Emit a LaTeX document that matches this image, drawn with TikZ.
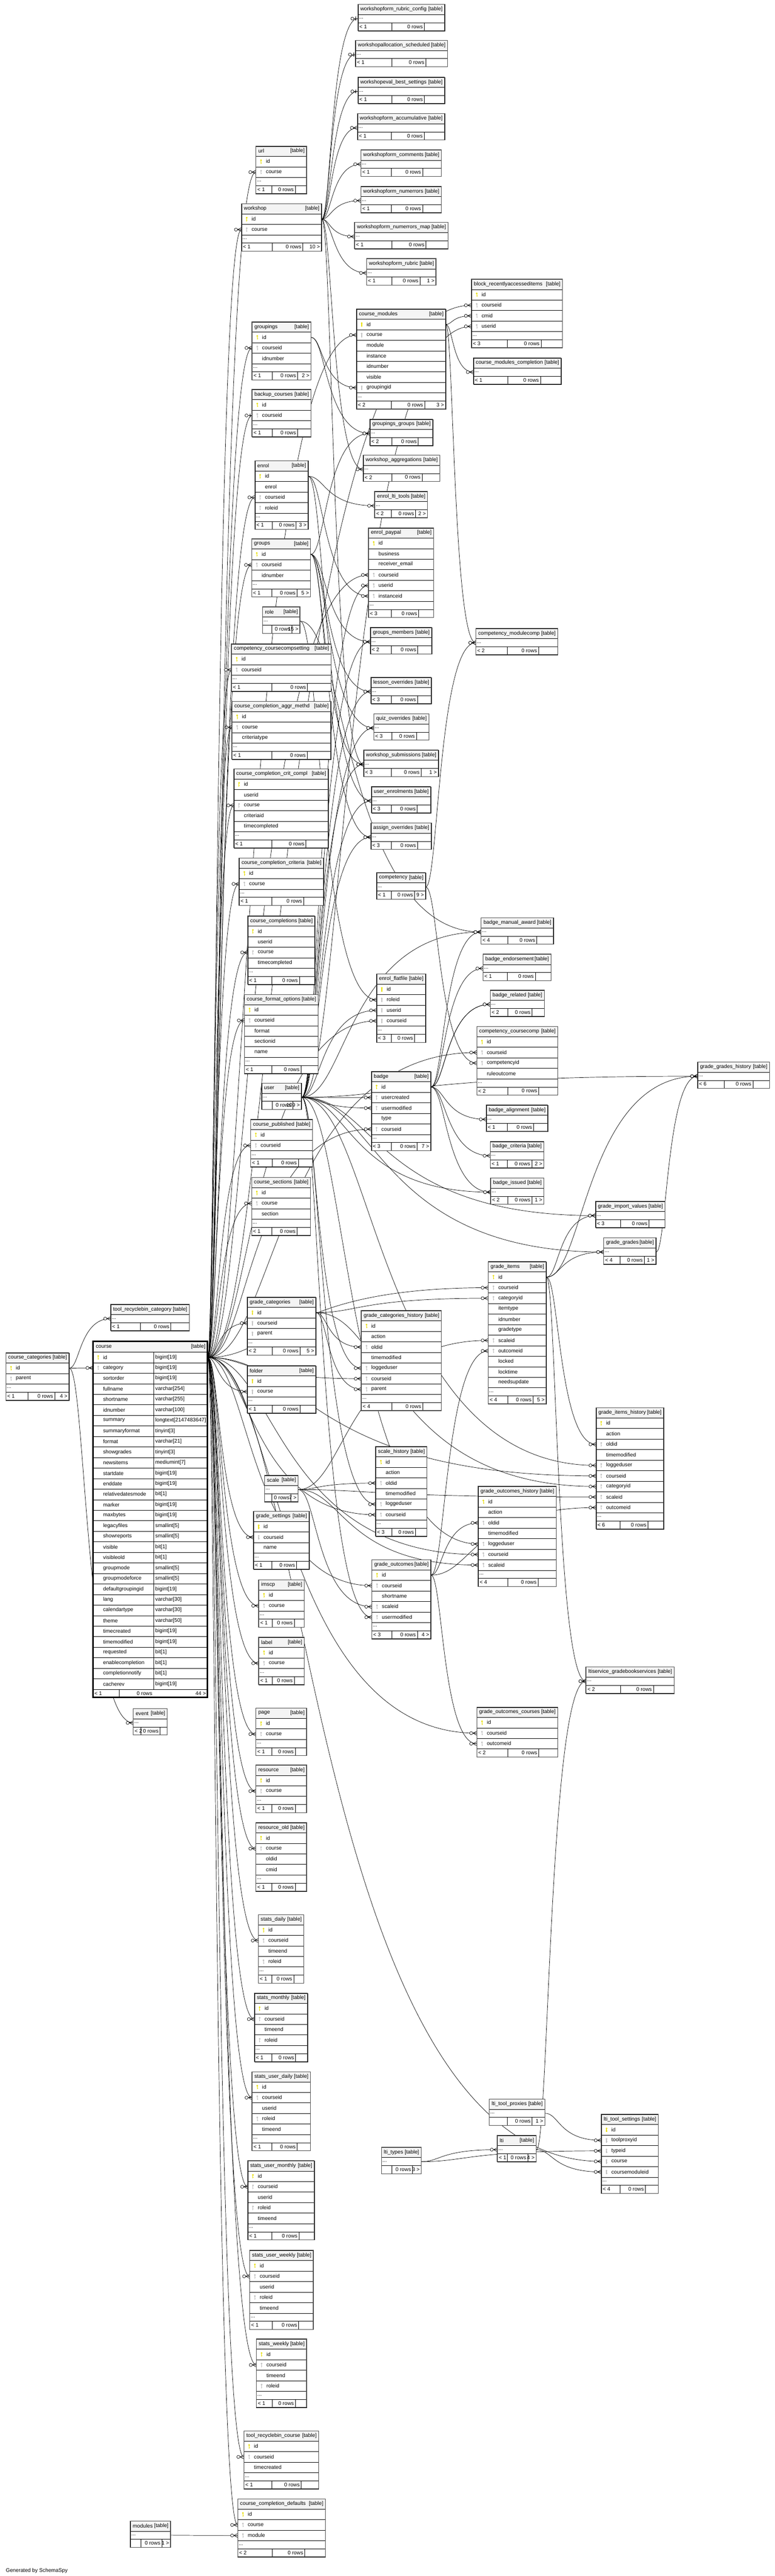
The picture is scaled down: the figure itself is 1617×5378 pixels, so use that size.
\documentclass[tikz,border=0pt]{standalone}
\usepackage{fontspec}
\setmainfont{Liberation Sans}
\usetikzlibrary{calc}
\pgfdeclarelayer{bg}
\pgfdeclarelayer{edges}
\pgfsetlayers{bg,edges,main}

\definecolor{headgrey}{RGB}{244,244,244}
\definecolor{pk}{RGB}{232,222,0}
\definecolor{fk}{RGB}{192,192,192}
\definecolor{nk}{RGB}{255,255,255}
\newcommand{\tblfont}{\fontsize{11}{13}\selectfont}
\newlength{\tblw}
\def\tbldotsflag{dots}

\tikzset{
  tblhead/.style={draw=black, line width=0.7pt, fill=headgrey, anchor=north west, minimum height=21pt, inner sep=0pt},
  tblrow/.style={draw=black, line width=0.7pt, fill=white, anchor=north west, minimum height=22pt, inner sep=0pt},
  tbldots/.style={tblrow, minimum height=17pt},
  tblfoot/.style={tblrow, minimum height=17pt},
  tbltext/.style={font=\tblfont, inner sep=0pt},
  tblgrid/.style={draw=black, line width=0.7pt},
  tblframe/.style={draw=black!70, line width=1.2pt},
  fkline/.style={line width=0.75pt},
  crow/.pic={\draw[fkline] (-8,0) -- (0,-4) (-8,0) -- (0,4) (-8,0) -- (0,0);
    \draw[fkline, fill=white] (-11.5,0) circle[radius=3.2];},
  bar/.pic={\draw[fkline] (-4,-4) -- (-4,4) (-8,0) -- (0,0);
    \draw[fkline, fill=white] (-11.5,0) circle[radius=3.2];},
}

% key glyph: colour, x, y
\newcommand{\keyat}[3]{%
  \fill[#1] (#2,#3-2.5) circle[radius=1.9];
  \fill[#1] (#2-0.6,#3-1) rectangle (#2+0.6,#3+5);
  \fill[#1] (#2,#3+2.5) rectangle (#2+1.6,#3+3.5);
}

% footer row: name, x, y, width, left text, right text
\newcommand{\footcells}[6]{%
  \settowidth{\tblw}{\tblfont #5}\pgfmathsetmacro\tbllz{max(14,\tblw+9)}%
  \settowidth{\tblw}{\tblfont #6}\pgfmathsetmacro\tblrz{max(14,\tblw+9)}%
  \pgfmathsetmacro\tblex{#4-\tbllz-39.5-\tblrz}%
  \pgfmathsetmacro\tblda{#2+\tbllz+\tblex/2}%
  \pgfmathsetmacro\tbldb{\tblda+39.5+\tblex/4}%
  \node[tblfoot, minimum width=#4pt] (#1-foot) at (#2,#3) {};
  \draw[tblgrid] (\tblda,#3) -- ++(0,17) (\tbldb,#3) -- ++(0,17);
  \node[tbltext, anchor=west] at (#2+3,#3+8.5) {#5};
  \node[tbltext, anchor=east] at (\tbldb-3,#3+8.5) {0 rows};
  \node[tbltext, anchor=east] at (#2+#4-3,#3+8.5) {#6};
}

% table with columns: [dots/nodots], name, x, y, width, rows, left, right
\newcommand{\dbtable}[8][dots]{%
  \node[tblhead, minimum width=#5pt] (#2) at (#3,#4) {};
  \node[tbltext, anchor=west] at (#3+5,#4+10.5) {\detokenize{#2}};
  \node[tbltext, anchor=east] at (#3+#5-4,#4+10.5) {[table]};
  \pgfmathsetmacro\tmpy{#4+21}\xdef\rowy{\tmpy}%
  \foreach \kind/\rname in {#6}{%
    \node[tblrow, minimum width=#5pt] (#2-\rname) at (#3,\rowy) {};
    \keyat{\kind}{#3+11}{\rowy+11}
    \node[tbltext, anchor=west] at (#3+21,\rowy+11) {\detokenize\expandafter{\rname}};
    \pgfmathsetmacro\tmpy{\rowy+22}\xdef\rowy{\tmpy}%
  }%
  \def\tblopt{#1}%
  \ifx\tblopt\tbldotsflag
    \node[tbldots, minimum width=#5pt] (#2-dots) at (#3,\rowy) {};
    \node[tbltext, anchor=west] at (#3+2,\rowy+9) {...};
    \pgfmathsetmacro\tmpy{\rowy+17}\xdef\rowy{\tmpy}%
  \fi
  \footcells{#2}{#3}{\rowy}{#5}{#7}{#8}%
  \draw[tblframe] (#3,#4) rectangle (#3+#5,\rowy+17);
}

% table that shows only "...": name, x, y, width, left, right
\newcommand{\dottable}[6]{%
  \node[tblhead, minimum width=#4pt] (#1) at (#2,#3) {};
  \node[tbltext, anchor=west] at (#2+5,#3+10.5) {\detokenize{#1}};
  \node[tbltext, anchor=east] at (#2+#4-4,#3+10.5) {[table]};
  \node[tbldots, minimum width=#4pt] (#1-dots) at (#2,#3+21) {};
  \node[tbltext, anchor=west] at (#2+2,#3+30) {...};
  \footcells{#1}{#2}{#3+38}{#4}{#5}{#6}%
  \draw[tblframe] (#2,#3) rectangle (#2+#4,#3+55);
}

% relationship: [end], parent row, child row
\newcommand{\fk}[3][crow]{%
  \draw[fkline] let \p1=(#2.east), \p2=(#3.west), \n1={\x1+0.25*(\x2-\x1)} in
    (\p1) .. controls (\n1,\y1) and (\n1,\y2) .. (\p2);
  \pic at (#3.west) {#1};
}

\begin{document}
\begin{tikzpicture}[x=1pt,y=-1pt]
\begin{pgfonlayer}{bg}
\fill[white] (0,0) rectangle (1617,5378);
\end{pgfonlayer}
\useasboundingbox (0,0) rectangle (1617,5378);

% workshop forms
\dottable{workshopform_rubric_config}{747}{9}{181}{< 1}{}
\dottable{workshopallocation_scheduled}{742}{84}{192}{< 1}{}
\dottable{workshopeval_best_settings}{747}{161}{181}{< 1}{}
\dottable{workshopform_accumulative}{746}{237}{182}{< 1}{}
\dottable{workshopform_comments}{753}{313}{168}{< 1}{}
\dottable{workshopform_numerrors}{753}{389}{168}{< 1}{}
\dottable{workshopform_numerrors_map}{740}{464}{195}{< 1}{}
\dottable{workshopform_rubric}{765}{540}{145}{< 1}{1 >}
\dbtable{url}{534}{305}{106}{pk/id,fk/course}{< 1}{}
\dbtable{workshop}{504}{425}{167}{pk/id,fk/course}{< 1}{10 >}
\dbtable{block_recentlyaccesseditems}{984}{583}{190}{pk/id,fk/courseid,fk/cmid,fk/userid}{< 3}{}
\dbtable{course_modules}{744}{645}{186}{pk/id,fk/course,nk/module,nk/instance,nk/idnumber,nk/visible,fk/groupingid}{< 2}{3 >}
\dbtable{groupings}{526}{672}{123}{pk/id,fk/courseid,nk/idnumber}{< 1}{2 >}
\dbtable{backup_courses}{526}{813}{123}{pk/id,fk/courseid}{< 1}{}
\dottable{course_modules_completion}{988}{747}{183}{< 1}{}
\dottable{groupings_groups}{772}{875}{131}{< 2}{}

% enrolments, groups, overrides
\dbtable{enrol}{532}{962}{111}{pk/id,nk/enrol,fk/courseid,fk/roleid}{< 1}{3 >}
\dbtable{groups}{525}{1125}{123}{pk/id,fk/courseid,nk/idnumber}{< 1}{5 >}
\dottable{role}{548}{1267}{78}{}{15 >}
\dbtable{competency_coursecompsetting}{483}{1344}{208}{pk/id,fk/courseid}{< 1}{}
\dbtable{course_completion_aggr_methd}{484}{1464}{206}{pk/id,fk/course,nk/criteriatype}{< 1}{}
\dbtable{course_completion_crit_compl}{488}{1605}{197}{pk/id,nk/userid,fk/course,nk/criteriaid,nk/timecompleted}{< 1}{}
\dbtable{course_completion_criteria}{499}{1791}{176}{pk/id,fk/course}{< 1}{}
\dottable{workshop_aggregations}{758}{950}{160}{< 2}{}
\dottable{enrol_lti_tools}{782}{1026}{110}{< 2}{2 >}
\dbtable{enrol_paypal}{769}{1102}{136}{pk/id,nk/business,nk/receiver_email,fk/courseid,fk/userid,fk/instanceid}{< 3}{}
\dottable{groups_members}{773}{1310}{128}{< 2}{}
\dottable{lesson_overrides}{774}{1414}{126}{< 3}{}
\dottable{quiz_overrides}{780}{1490}{115}{< 3}{}
\dottable{workshop_submissions}{759}{1566}{156}{< 3}{1 >}
\dottable{user_enrolments}{775}{1642}{124}{< 3}{}
\dottable{assign_overrides}{774}{1718}{126}{< 3}{}
\dottable{competency}{786}{1822}{102}{< 1}{9 >}
\dottable{competency_modulecomp}{993}{1312}{171}{< 2}{}

% completions, badges
\dbtable{course_completions}{517}{1912}{140}{pk/id,nk/userid,fk/course,nk/timecompleted}{< 1}{}
\dbtable{course_format_options}{510}{2076}{154}{pk/id,fk/courseid,nk/format,nk/sectionid,nk/name}{< 1}{}
\dottable{user}{546}{2261}{83}{}{109 >}
\dbtable{course_published}{523}{2337}{129}{pk/id,fk/courseid}{< 1}{}
\dbtable{course_sections}{525}{2458}{123}{pk/id,fk/course,nk/section}{< 1}{}
\dbtable{grade_categories}{516}{2708}{143}{pk/id,fk/courseid,fk/parent}{< 2}{5 >}
\dbtable{folder}{516}{2851}{143}{pk/id,fk/course}{< 1}{}
\dbtable{enrol_flatfile}{786}{2033}{102}{pk/id,fk/roleid,fk/userid,fk/courseid}{< 3}{}
\dbtable{badge}{775}{2237}{124}{pk/id,fk/usercreated,fk/usermodified,nk/type,fk/courseid}{< 3}{7 >}
\dbtable{grade_categories_history}{754}{2736}{167}{pk/id,nk/action,fk/oldid,nk/timemodified,fk/loggeduser,fk/courseid,fk/parent}{< 4}{}
\dottable{badge_manual_award}{1004}{1916}{151}{< 4}{}
\dottable{badge_endorsement}{1008}{1992}{142}{< 1}{}
\dottable{badge_related}{1023}{2067}{113}{< 2}{}
\dbtable{competency_coursecomp}{995}{2143}{169}{pk/id,fk/courseid,fk/competencyid,nk/ruleoutcome}{< 2}{}
\dottable{badge_alignment}{1015}{2307}{128}{< 1}{}
\dottable{badge_criteria}{1023}{2383}{112}{< 1}{2 >}
\dottable{badge_issued}{1024}{2459}{111}{< 2}{1 >}

% grades
\dottable{grade_import_values}{1243}{2508}{145}{< 3}{}
\dottable{grade_grades}{1260}{2584}{109}{< 4}{1 >}
\dbtable{grade_items}{1019}{2634}{121}{pk/id,fk/courseid,fk/categoryid,nk/itemtype,nk/idnumber,nk/gradetype,fk/scaleid,fk/outcomeid,nk/locked,nk/locktime,nk/needsupdate}{< 4}{5 >}
\dottable{grade_grades_history}{1456}{2217}{150}{< 6}{}
\dottable{scale}{552}{3080}{70}{}{7 >}
\dbtable{grade_settings}{529}{3155}{116}{pk/id,fk/courseid,nk/name}{< 1}{}
\dbtable{scale_history}{784}{3020}{107}{pk/id,nk/action,fk/oldid,nk/timemodified,fk/loggeduser,fk/courseid}{< 3}{}
\dbtable{grade_outcomes}{776}{3256}{123}{pk/id,fk/courseid,nk/shortname,fk/scaleid,fk/usermodified}{< 3}{4 >}
\dbtable{grade_items_history}{1244}{2939}{141}{pk/id,nk/action,fk/oldid,nk/timemodified,fk/loggeduser,fk/courseid,fk/categoryid,fk/scaleid,fk/outcomeid}{< 6}{}
\dbtable{grade_outcomes_history}{998}{3103}{163}{pk/id,nk/action,fk/oldid,nk/timemodified,fk/loggeduser,fk/courseid,fk/scaleid}{< 4}{}
\dottable{ltiservice_gradebookservices}{1223}{3480}{184}{< 2}{}
\dbtable[nodots]{grade_outcomes_courses}{995}{3564}{169}{pk/id,fk/courseid,fk/outcomeid}{< 2}{}

% categories and course
\dbtable{course_categories}{12}{2824}{132}{pk/id,fk/parent}{< 1}{4 >}
\dottable{tool_recyclebin_category}{231}{2723}{164}{< 1}{}
\dottable{event}{278}{3567}{71}{< 2}{}
\node[tblhead, minimum width=239pt, minimum height=22.5pt] (course) at (194,2800) {};
\node[tbltext, anchor=west] at (200,2811) {course};
\node[tbltext, anchor=east] at (429,2811) {[table]};
\xdef\rowy{2822.5}
\foreach \kind/\rname/\rtype in {pk/id/bigint[19],fk/category/bigint[19],nk/sortorder/bigint[19],
  nk/fullname/varchar[254],nk/shortname/varchar[255],nk/idnumber/varchar[100],
  nk/summary/longtext[2147483647],nk/summaryformat/tinyint[3],nk/format/varchar[21],
  nk/showgrades/tinyint[3],nk/newsitems/mediumint[7],nk/startdate/bigint[19],
  nk/enddate/bigint[19],nk/relativedatesmode/bit[1],nk/marker/bigint[19],
  nk/maxbytes/bigint[19],nk/legacyfiles/smallint[5],nk/showreports/smallint[5],
  nk/visible/bit[1],nk/visibleold/bit[1],nk/groupmode/smallint[5],
  nk/groupmodeforce/smallint[5],nk/defaultgroupingid/bigint[19],nk/lang/varchar[30],
  nk/calendartype/varchar[30],nk/theme/varchar[50],nk/timecreated/bigint[19],
  nk/timemodified/bigint[19],nk/requested/bit[1],nk/enablecompletion/bit[1],
  nk/completionnotify/bit[1],nk/cacherev/bigint[19]}{
  \node[tblrow, minimum width=239pt] (course-\rname) at (194,\rowy) {};
  \keyat{\kind}{205}{\rowy+11}
  \node[tbltext, anchor=west] at (215,\rowy+11) {\rname};
  \node[tbltext, anchor=west] at (324,\rowy+11) {\rtype};
  \pgfmathsetmacro\tmpy{\rowy+22}\xdef\rowy{\tmpy}
}
\draw[tblgrid] (321,2822.5) -- (321,\rowy+17);
\node[tblfoot, minimum width=239pt] (course-foot) at (194,\rowy) {};
\draw[tblgrid] (249,\rowy) -- ++(0,17);
\node[tbltext, anchor=west] at (197,\rowy+8.5) {< 1};
\node[tbltext, anchor=east] at (318,\rowy+8.5) {0 rows};
\node[tbltext, anchor=east] at (430,\rowy+8.5) {44 >};
\draw[line width=3pt] (194,2800) rectangle (433,\rowy+17);

% activities and stats
\dbtable{imscp}{540}{3298}{95}{pk/id,fk/course}{< 1}{}
\dbtable{label}{540}{3418}{95}{pk/id,fk/course}{< 1}{}
\dbtable{page}{534}{3566}{106}{pk/id,fk/course}{< 1}{}
\dbtable{resource}{534}{3685}{106}{pk/id,fk/course}{< 1}{}
\dbtable{resource_old}{534}{3805}{106}{pk/id,fk/course,nk/oldid,nk/cmid}{< 1}{}
\dbtable{stats_daily}{539}{3997}{95}{pk/id,fk/courseid,nk/timeend,fk/roleid}{< 1}{}
\dbtable{stats_monthly}{531}{4161}{111}{pk/id,fk/courseid,nk/timeend,fk/roleid}{< 1}{}
\dbtable{stats_user_daily}{526}{4325}{122}{pk/id,fk/courseid,nk/userid,fk/roleid,nk/timeend}{< 1}{}
\dbtable{stats_user_monthly}{517}{4511}{139}{pk/id,fk/courseid,nk/userid,fk/roleid,nk/timeend}{< 1}{}
\dbtable{stats_user_weekly}{521}{4698}{133}{pk/id,fk/courseid,nk/userid,fk/roleid,nk/timeend}{< 1}{}
\dbtable{stats_weekly}{535}{4883}{105}{pk/id,fk/courseid,nk/timeend,fk/roleid}{< 1}{}
\dbtable{tool_recyclebin_course}{509}{5075}{156}{pk/id,fk/courseid,nk/timecreated}{< 1}{}
\dbtable{course_completion_defaults}{496}{5217}{183}{pk/id,fk/course,fk/module}{< 2}{}
\dottable{modules}{272}{5263}{84}{}{1 >}

% lti
\dottable{lti_tool_proxies}{1021}{4382}{116}{}{1 >}
\dottable{lti}{1038}{4458}{81}{< 1}{4 >}
\dottable{lti_types}{796}{4483}{83}{}{3 >}
\dbtable{lti_tool_settings}{1255}{4414}{119}{pk/id,fk/toolproxyid,fk/typeid,fk/course,fk/coursemoduleid}{< 4}{}

\node[tbltext, anchor=south west] (credit) at (12,5372) {Generated by SchemaSpy};

\begin{pgfonlayer}{edges}
\foreach \c in {url-course,workshop-course,groupings-courseid,block_recentlyaccesseditems-courseid,
  course_modules-course,enrol-courseid,groups-courseid,competency_coursecompsetting-courseid,
  course_completion_aggr_methd-course,course_completion_crit_compl-course,course_completion_criteria-course,
  enrol_paypal-courseid,course_completions-course,course_format_options-courseid,course_published-courseid,
  course_sections-course,grade_categories-courseid,folder-course,enrol_flatfile-courseid,badge-courseid,
  grade_categories_history-courseid,competency_coursecomp-courseid,grade_items-courseid,grade_settings-courseid,
  imscp-course,label-course,page-course,resource-course,resource_old-course,scale_history-courseid,
  grade_outcomes-courseid,grade_items_history-courseid,grade_outcomes_history-courseid,grade_outcomes_courses-courseid,
  stats_daily-courseid,stats_monthly-courseid,stats_user_daily-courseid,stats_user_monthly-courseid,
  stats_user_weekly-courseid,stats_weekly-courseid,tool_recyclebin_course-courseid,course_completion_defaults-course,
  lti_tool_settings-course}{\fk{course-id}{\c}}
\fk[bar]{course-id}{backup_courses-courseid}
\foreach \c in {course-category,tool_recyclebin_category-dots,event-dots}{\fk{course_categories-id}{\c}}
\fk[bar]{workshop-id}{workshopform_rubric_config-dots}
\fk[bar]{workshop-id}{workshopallocation_scheduled-dots}
\fk[bar]{workshop-id}{workshopeval_best_settings-dots}
\foreach \c in {workshopform_accumulative-dots,workshopform_comments-dots,workshopform_numerrors-dots,
  workshopform_numerrors_map-dots,workshopform_rubric-dots,workshop_aggregations-dots,
  workshop_submissions-dots}{\fk{workshop-id}{\c}}
\foreach \c in {course_modules-groupingid,groupings_groups-dots}{\fk{groupings-id}{\c}}
\foreach \c in {groupings_groups-dots,groups_members-dots,lesson_overrides-dots,quiz_overrides-dots,
  assign_overrides-dots,workshop_submissions-dots}{\fk{groups-id}{\c}}
\foreach \c in {enrol_lti_tools-dots,enrol_paypal-instanceid,user_enrolments-dots}{\fk{enrol-id}{\c}}
\foreach \c in {enrol_flatfile-roleid,badge_manual_award-dots}{\fk{role-dots}{\c}}
\foreach \c in {block_recentlyaccesseditems-userid,enrol_paypal-userid,enrol_flatfile-userid,
  badge-usercreated,badge-usermodified,badge_manual_award-dots,badge_issued-dots,grade_import_values-dots,
  grade_grades-dots,grade_grades_history-dots,grade_categories_history-loggeduser,scale_history-loggeduser,
  grade_outcomes-usermodified,grade_items_history-loggeduser,grade_outcomes_history-loggeduser,
  groups_members-dots,lesson_overrides-dots,quiz_overrides-dots,assign_overrides-dots,
  user_enrolments-dots,workshop_submissions-dots}{\fk{user-dots}{\c}}
\foreach \c in {block_recentlyaccesseditems-cmid,course_modules_completion-dots,
  competency_modulecomp-dots}{\fk{course_modules-id}{\c}}
\foreach \c in {competency_modulecomp-dots,competency_coursecomp-competencyid}{\fk{competency-dots}{\c}}
\foreach \c in {badge_manual_award-dots,badge_endorsement-dots,badge_related-dots,badge_related-dots,
  badge_alignment-dots,badge_criteria-dots,badge_issued-dots}{\fk{badge-id}{\c}}
\foreach \c in {grade_categories_history-oldid,grade_categories_history-parent,grade_items-categoryid,
  grade_items_history-categoryid}{\fk{grade_categories-id}{\c}}
\foreach \c in {scale_history-oldid,grade_outcomes-scaleid,grade_outcomes_history-scaleid,
  grade_items-scaleid,grade_items_history-scaleid}{\fk{scale-dots}{\c}}
\foreach \c in {grade_outcomes_history-oldid,grade_items-outcomeid,grade_items_history-outcomeid,
  grade_outcomes_courses-outcomeid}{\fk{grade_outcomes-id}{\c}}
\foreach \c in {grade_import_values-dots,grade_grades-dots,grade_grades_history-dots,
  grade_items_history-oldid,ltiservice_gradebookservices-dots}{\fk{grade_items-id}{\c}}
\fk{grade_grades-dots}{grade_grades_history-dots}
\foreach \c in {ltiservice_gradebookservices-dots,lti_tool_settings-coursemoduleid}{\fk{lti-dots}{\c}}
\foreach \c in {lti-dots,lti_tool_settings-typeid}{\fk{lti_types-dots}{\c}}
\fk{lti_tool_proxies-dots}{lti_tool_settings-toolproxyid}
\fk{modules-dots}{course_completion_defaults-module}
\end{pgfonlayer}
\end{tikzpicture}
\end{document}
